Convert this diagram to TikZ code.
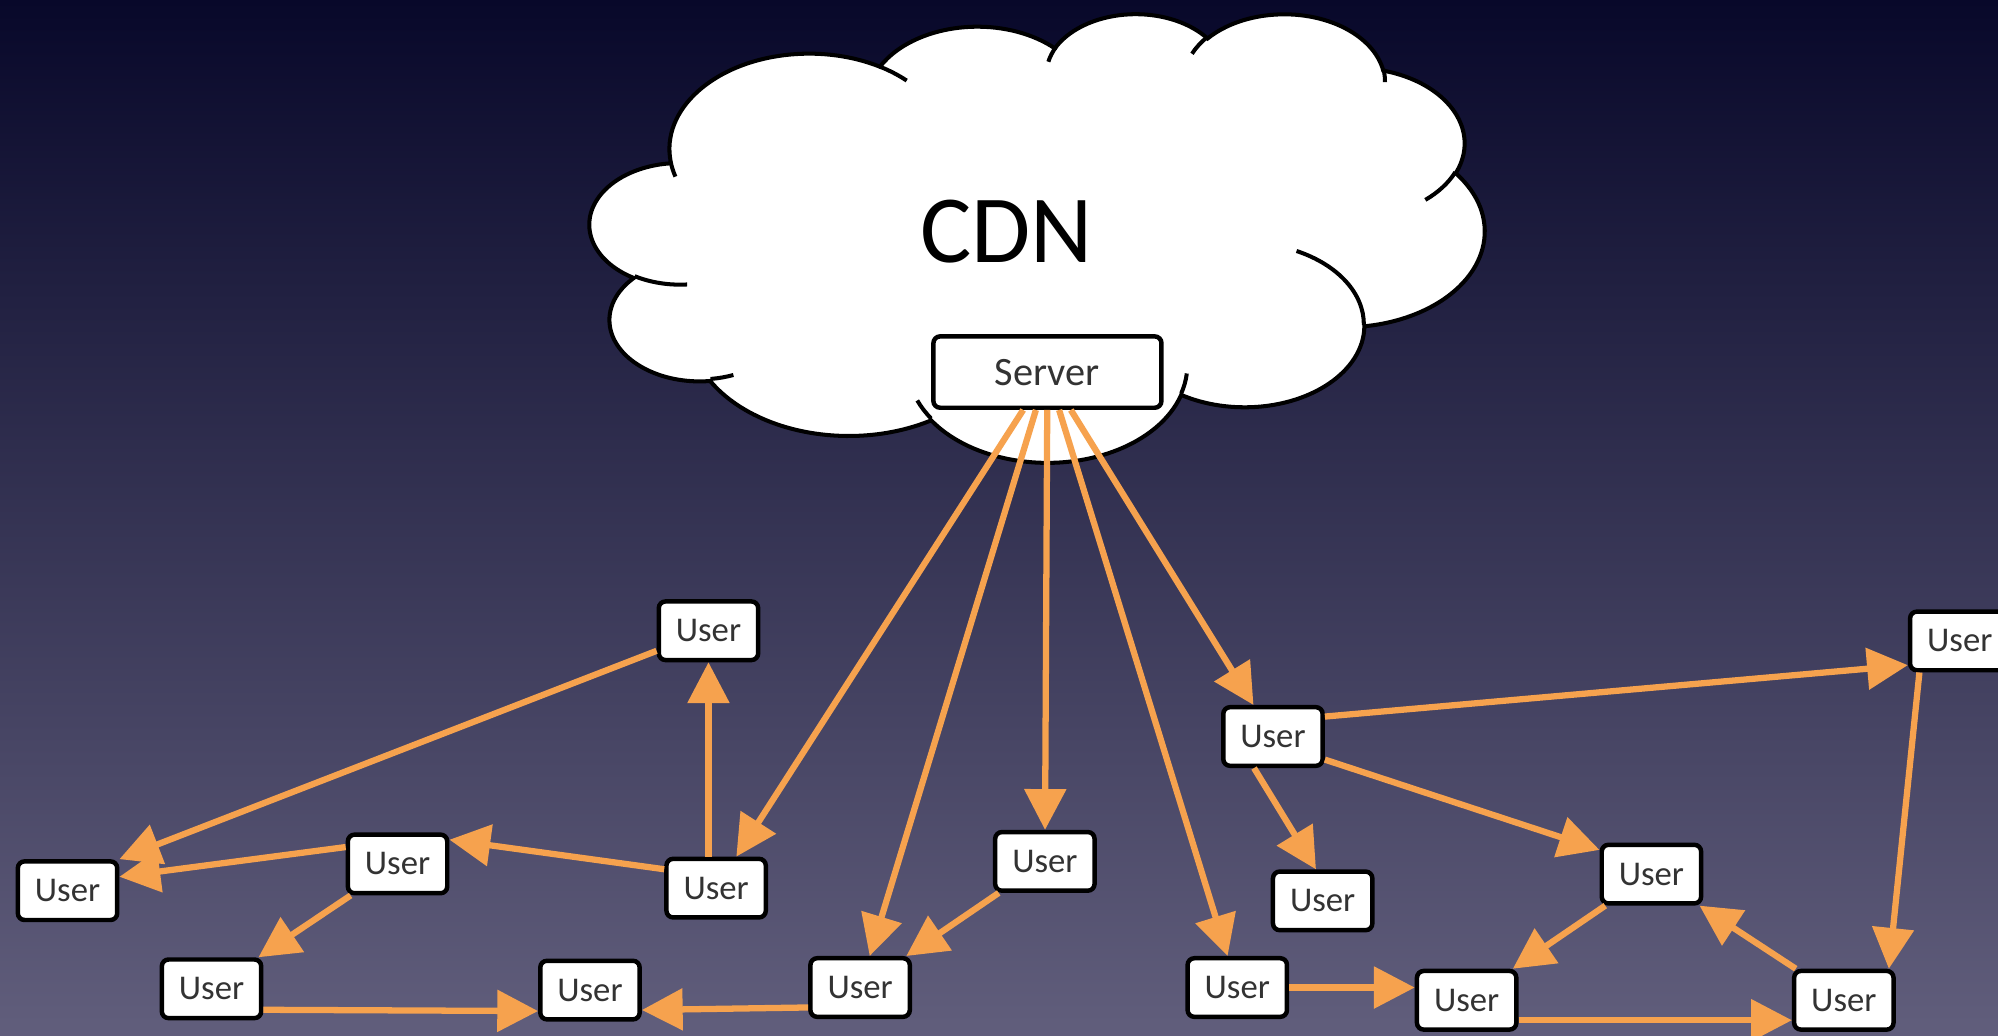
\documentclass[tikz,border=0pt]{standalone}
\usepackage{fontspec}
\setmainfont{Carlito}
\usetikzlibrary{arrows.meta}
\definecolor{skytop}{HTML}{08082A}
\definecolor{skymid}{HTML}{35345A}
\definecolor{skybot}{HTML}{615E7C}
\definecolor{flow}{HTML}{F6A24E}
\definecolor{ink}{HTML}{333333}

\begin{document}
\begin{tikzpicture}[x=0.02cm, y=-0.02cm, >={Triangle[length=0.64cm, width=0.64cm]},
  user/.style={draw, line width=2pt, rounded corners=3pt, fill=white, text=ink,
    minimum width=1.56cm, minimum height=0.92cm, inner sep=0pt, font=\fontsize{15.5}{15.5}\selectfont},
  srvbox/.style={user, minimum width=3.58cm, minimum height=1.12cm, font=\fontsize{18}{18}\selectfont},
  link/.style={->, draw=flow, line width=2.8pt}]
  \useasboundingbox (0,0) rectangle (1568,813);
  \shade[top color=skytop, middle color=skymid, bottom color=skybot] (0,0) rectangle (1568,813);

  % cloud
  \begin{scope}[shift={(463,10)}, x=0.0325cm, y=-0.0163cm, line width=1.8pt]
    \draw[fill=white] (39.00,143.70)
      arc[start angle=-187.75, end angle=-59.63, x radius=67.53, y radius=91.90]
      arc[start angle=-152.02, end angle=-45.45, x radius=53.33, y radius=72.67]
      arc[start angle=-153.49, end angle=-37.32, x radius=43.65, y radius=59.45]
      arc[start angle=-139.70, end angle=-10.22, x radius=48.57, y radius=65.95]
      arc[start angle=-74.77, end angle=23.21, x radius=53.33, y radius=72.73]
      arc[start angle=-37.54, end angle=81.86, x radius=67.75, y radius=92.20]
      arc[start angle=0.46, end angle=121.98, x radius=57.85, y radius=78.67]
      arc[start angle=16.84, end angle=146.23, x radius=67.52, y radius=92.15]
      arc[start angle=58.99, end angle=150.18, x radius=77.20, y radius=105.43]
      arc[start angle=-276.69, end angle=-136.88, x radius=43.60, y radius=59.18]
      arc[start angle=-239.65, end angle=-95.89, x radius=43.45, y radius=59.45]
      -- cycle;
    \draw (46.93,261.77) arc[start angle=85.54, end angle=120.35, x radius=43.45, y radius=59.45]
      (69.28,348.99) arc[start angle=68.24, end angle=83.31, x radius=43.60, y radius=59.18]
      (164.78,390.90) arc[start angle=146.23, end angle=158.47, x radius=67.52, y radius=92.15]
      (288.27,347.51) arc[start angle=4.73, end angle=16.84, x radius=67.52, y radius=92.15]
      (341.29,229.54) arc[start angle=-64.03, end angle=0.46, x radius=57.85, y radius=78.67]
      (417.98,153.54) arc[start angle=23.21, end angle=49.64, x radius=53.33, y radius=72.73]
      (383.24,54.26) arc[start angle=-10.22, end angle=0.82, x radius=48.57, y radius=65.95]
      (290.78,39.52) arc[start angle=-156.28, end angle=-139.70, x radius=48.57, y radius=65.95]
      (221.41,47.20) arc[start angle=-167.72, end angle=-153.49, x radius=43.65, y radius=59.45]
      (140.00,51.92) arc[start angle=-59.63, end angle=-45.75, x radius=67.53, y radius=91.90]
      (41.27,157.89) arc[start angle=163.19, end angle=172.25, x radius=67.53, y radius=91.90];
  \end{scope}
  \node[font=\fontsize{43}{43}\selectfont] (cdn) at (790,182) {CDN};
  \node[srvbox] (srv) at (822,292) {Server};

  % users
  \node[user] (u1) at (556,495) {User};
  \node[user] (u2) at (53,699) {User};
  \node[user] (u3) at (312,678) {User};
  \node[user] (u4) at (562,697) {User};
  \node[user] (u5) at (166,776) {User};
  \node[user] (u6) at (463,777) {User};
  \node[user] (u7) at (675,775) {User};
  \node[user] (u8) at (820,676) {User};
  \node[user] (u9) at (999,578) {User};
  \node[user] (u10) at (1038,707) {User};
  \node[user] (u11) at (971,775) {User};
  \node[user] (u12) at (1151,785) {User};
  \node[user] (u13) at (1296,686) {User};
  \node[user] (u14) at (1447,785) {User};
  \node[user] (u15) at (1538,503) {User};

  % from the server
  \draw[link] (srv) -- (u4);
  \draw[link] (srv) -- (u7);
  \draw[link] (srv) -- (u8);
  \draw[link] (srv) -- (u11);
  \draw[link] (srv) -- (u9);
  % left group
  \draw[link] (u4.north -| u1) -- (u1);
  \draw[link] (u1) -- (u2.north east);
  \draw[link] (u4.160) -- (u3.25);
  \draw[link] (u3.162) -- (u2.15);
  \draw[link] (u3) -- (u5);
  \draw[link] (u5.338) -- (u6.202);
  \draw[link] (u7.201) -- (u6.339);
  \draw[link] (u8) -- (u7);
  % right group
  \draw[link] (u9.21) -- (u15.205);
  \draw[link] (u9.336) -- (u13.155);
  \draw[link] (u9.239) -- (u10.102);
  \draw[link] (u15.218) -- (u14.35);
  \draw[link] (u13) -- (u12);
  \draw[link] (u14) -- (u13);
  \draw[link] (u11.east) -- (u11.east -| u12.west);
  \draw[link] (u12.339) -- (u14.201);
\end{tikzpicture}
\end{document}
